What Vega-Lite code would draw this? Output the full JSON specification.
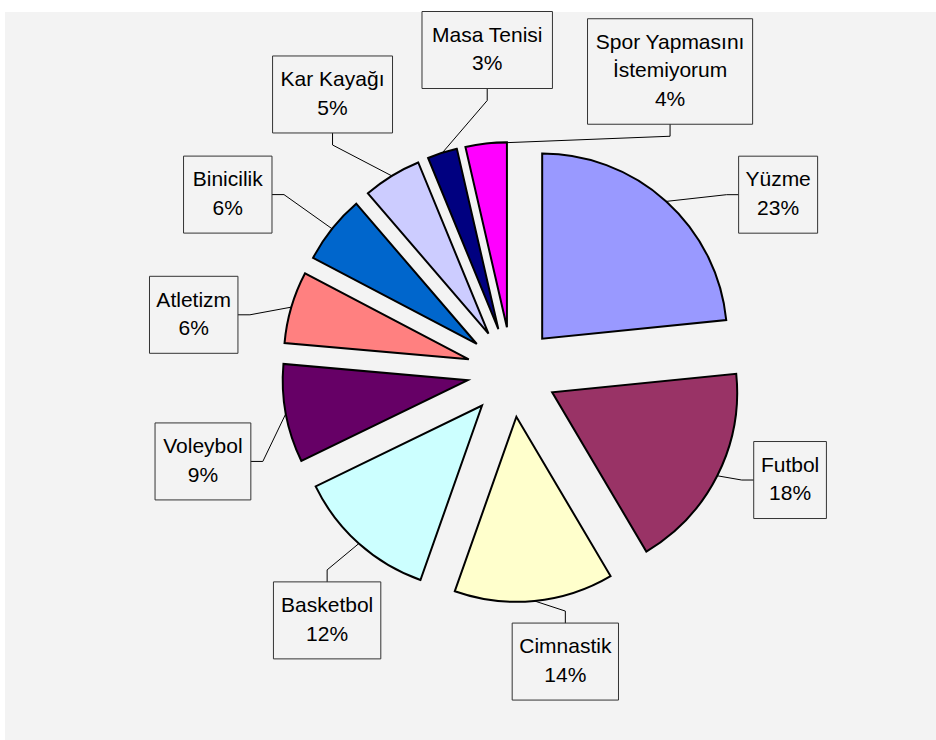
{
  "$schema": "https://vega.github.io/schema/vega-lite/v6.json",
  "width": 931,
  "height": 728,
  "autosize": {"type": "none"},
  "padding": {"left": 5, "top": 12, "right": 0, "bottom": 0},
  "background": "#ffffff",
  "config": {"view": {"fill": "#f3f3f3", "stroke": null}},
  "data": {
    "values": [
      {"sport": "Yüzme", "share": 23.4},
      {"sport": "Futbol", "share": 18.1},
      {"sport": "Cimnastik", "share": 13.9},
      {"sport": "Basketbol", "share": 12.4},
      {"sport": "Voleybol", "share": 8.6},
      {"sport": "Atletizm", "share": 6.3},
      {"sport": "Binicilik", "share": 6.0},
      {"sport": "Kar Kayağı", "share": 5.1},
      {"sport": "Masa Tenisi", "share": 2.6},
      {"sport": "Spor Yapmasını İstemiyorum", "share": 3.6}
    ]
  },
  "transform": [
    {"window": [{"op": "sum", "field": "share", "as": "cum"}], "frame": [null, 0]},
    {"calculate": "datum.cum - datum.share", "as": "t0"},
    {"calculate": "(datum.cum - datum.share / 2) * 3.6", "as": "mid"},
    {"calculate": "datum.mid * PI / 180", "as": "mr"},
    {"calculate": "45 * sin(datum.mr)", "as": "ax"},
    {"calculate": "-45 * cos(datum.mr)", "as": "ay"},
    {"calculate": "230 * sin(datum.mr)", "as": "px"},
    {"calculate": "-230 * cos(datum.mr)", "as": "py"},
    {"calculate": "lastindexof(datum.sport, ' ')", "as": "sp"},
    {"calculate": "length(datum.sport) > 16 ? slice(datum.sport, 0, datum.sp) : datum.sport", "as": "l1"},
    {"calculate": "length(datum.sport) > 16 ? slice(datum.sport, datum.sp + 1) : ''", "as": "l2"},
    {"calculate": "11 * length(datum.l1) - 6 * (length(datum.l1) - length(replace(datum.l1, regexp('[iltıİIfj]', 'g'), ''))) + 5 * (length(datum.l1) - length(replace(datum.l1, regexp('[mMwW]', 'g'), ''))) - 5 * (length(datum.l1) - length(replace(datum.l1, regexp(' ', 'g'), '')))", "as": "w1"},
    {"calculate": "11 * length(datum.l2) - 6 * (length(datum.l2) - length(replace(datum.l2, regexp('[iltıİIfj]', 'g'), ''))) + 5 * (length(datum.l2) - length(replace(datum.l2, regexp('[mMwW]', 'g'), ''))) - 5 * (length(datum.l2) - length(replace(datum.l2, regexp(' ', 'g'), '')))", "as": "w2"},
    {"calculate": "max(datum.w1, datum.w2) * 1.05 + 16", "as": "bw"},
    {"calculate": "datum.l2 === '' ? 2 : 3", "as": "nl"},
    {"calculate": "28.5 * datum.nl + 20", "as": "bh"},
    {"calculate": "datum.l1 + (datum.l2 === '' ? '' : '\\n' + datum.l2) + '\\n' + round(datum.share) + '%'", "as": "txt"},
    {"calculate": "datum.mid < 150 ? datum.mid + 360 : datum.mid", "as": "um"},
    {"calculate": "datum.bw * abs(cos(datum.mr)) + datum.bh * abs(sin(datum.mr))", "as": "s"},
    {"window": [{"op": "sum", "field": "s", "as": "cs"}, {"op": "first_value", "field": "s", "as": "s0"}], "sort": [{"field": "um", "order": "ascending"}], "frame": [null, 0]},
    {"calculate": "(datum.cs - (datum.s0 + datum.s) / 2) * 0.1976", "as": "G"},
    {"calculate": "datum.um - datum.G", "as": "key"},
    {"window": [{"op": "max", "field": "key", "as": "km"}], "sort": [{"field": "um", "order": "ascending"}], "frame": [null, 0]},
    {"calculate": "(datum.km + datum.G - 6) * PI / 180", "as": "la"},
    {"calculate": "sin(datum.la)", "as": "ux"},
    {"calculate": "-cos(datum.la)", "as": "uy"},
    {"calculate": "datum.bw / 2 / max(abs(datum.ux), 0.000001)", "as": "tx"},
    {"calculate": "datum.bh / 2 / max(abs(datum.uy), 0.000001)", "as": "ty"},
    {"calculate": "270 - 14 * datum.uy + min(datum.tx, datum.ty)", "as": "rr"},
    {"calculate": "datum.rr * datum.ux - 6", "as": "cx"},
    {"calculate": "datum.rr * datum.uy", "as": "cy"},
    {"calculate": "datum.cy - (datum.nl - 1) * 14.25", "as": "ty0"},
    {"calculate": "datum.cx - datum.bw / 2", "as": "bx0"},
    {"calculate": "datum.cx + datum.bw / 2", "as": "bx1"},
    {"calculate": "datum.cy - datum.bh / 2", "as": "by0"},
    {"calculate": "datum.cy + datum.bh / 2", "as": "by1"},
    {"calculate": "datum.tx < datum.ty ? datum.cx - (datum.ux > 0 ? 1 : -1) * datum.bw / 2 : datum.cx", "as": "nx"},
    {"calculate": "datum.tx < datum.ty ? datum.cy : datum.cy - (datum.uy > 0 ? 1 : -1) * datum.bh / 2", "as": "ny"},
    {"calculate": "datum.tx < datum.ty ? datum.nx - (datum.ux > 0 ? 1 : -1) * 12 : datum.nx", "as": "ex"},
    {"calculate": "datum.tx < datum.ty ? datum.ny : datum.ny - (datum.uy > 0 ? 1 : -1) * 12", "as": "ey"}
  ],
  "layer": [
    {
      "mark": {"type": "arc", "outerRadius": 185, "stroke": "#000000", "strokeWidth": 2, "strokeJoin": "miter"},
      "encoding": {
        "theta": {"field": "t0", "type": "quantitative", "stack": null, "scale": {"domain": [0, 100], "range": [0, 6.283185307179586]}},
        "theta2": {"field": "cum"},
        "x": {"field": "ax", "type": "quantitative", "stack": null, "axis": null, "scale": {"domain": [-507, 424], "nice": false, "zero": false}},
        "y": {"field": "ay", "type": "quantitative", "stack": null, "axis": null, "scale": {"domain": [-360, 368], "nice": false, "zero": false, "reverse": true}},
        "color": {
          "field": "sport",
          "type": "nominal",
          "legend": null,
          "scale": {
            "domain": ["Yüzme", "Futbol", "Cimnastik", "Basketbol", "Voleybol", "Atletizm", "Binicilik", "Kar Kayağı", "Masa Tenisi", "Spor Yapmasını İstemiyorum"],
            "range": ["#9999ff", "#993366", "#ffffcc", "#ccffff", "#660066", "#ff8080", "#0066cc", "#ccccff", "#000080", "#ff00ff"]
          }
        }
      }
    },
    {
      "mark": {"type": "rule", "color": "#000000", "strokeWidth": 1},
      "encoding": {
        "x": {"field": "px", "type": "quantitative", "axis": null, "scale": {"domain": [-507, 424], "nice": false, "zero": false}},
        "y": {"field": "py", "type": "quantitative", "axis": null, "scale": {"domain": [-360, 368], "nice": false, "zero": false, "reverse": true}},
        "x2": {"field": "ex"},
        "y2": {"field": "ey"}
      }
    },
    {
      "mark": {"type": "rule", "color": "#000000", "strokeWidth": 1},
      "encoding": {
        "x": {"field": "ex", "type": "quantitative", "axis": null, "scale": {"domain": [-507, 424], "nice": false, "zero": false}},
        "y": {"field": "ey", "type": "quantitative", "axis": null, "scale": {"domain": [-360, 368], "nice": false, "zero": false, "reverse": true}},
        "x2": {"field": "nx"},
        "y2": {"field": "ny"}
      }
    },
    {
      "mark": {"type": "rect", "filled": false, "color": "#333333", "strokeWidth": 1},
      "encoding": {
        "x": {"field": "bx0", "type": "quantitative", "axis": null, "scale": {"domain": [-507, 424], "nice": false, "zero": false}},
        "y": {"field": "by0", "type": "quantitative", "axis": null, "scale": {"domain": [-360, 368], "nice": false, "zero": false, "reverse": true}},
        "x2": {"field": "bx1"},
        "y2": {"field": "by1"}
      }
    },
    {
      "mark": {"type": "text", "font": "Liberation Sans", "fontSize": 21, "lineHeight": 28.5, "lineBreak": "\n", "align": "center", "baseline": "middle", "color": "#000000"},
      "encoding": {
        "x": {"field": "cx", "type": "quantitative", "axis": null, "scale": {"domain": [-507, 424], "nice": false, "zero": false}},
        "y": {"field": "ty0", "type": "quantitative", "axis": null, "scale": {"domain": [-360, 368], "nice": false, "zero": false, "reverse": true}},
        "text": {"field": "txt", "type": "nominal"}
      }
    }
  ]
}
